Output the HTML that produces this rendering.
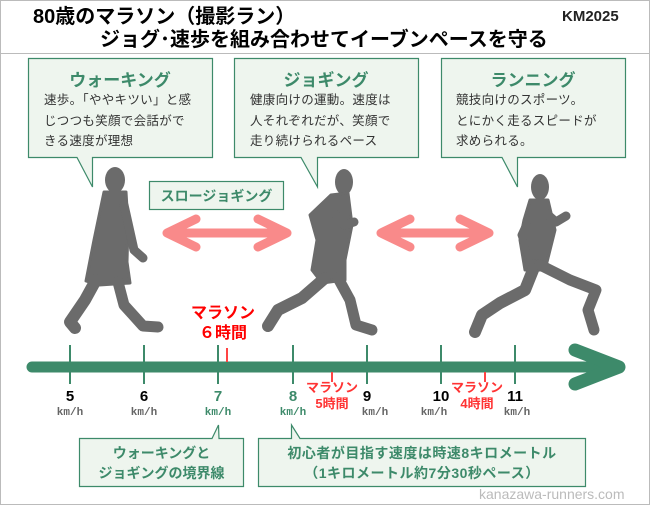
<!DOCTYPE html>
<html><head><meta charset="utf-8"><style>
body{margin:0;width:650px;height:505px;overflow:hidden;background:#fff;font-family:"Liberation Sans","Noto Sans CJK JP",sans-serif;}
.t{position:absolute;white-space:nowrap;}
</style></head><body>
<div style="position:absolute;left:0;top:0;width:648px;height:503px;border:1px solid #bbb;"></div>
<div style="position:absolute;left:1px;top:53px;width:648px;height:1px;background:#bbb;"></div>
<div class="t" style="left:33px;top:4px;font-size:20px;font-weight:bold;line-height:26px;">80歳のマラソン（撮影ラン）</div>
<div class="t" style="left:562px;top:8px;font-size:15px;font-weight:bold;line-height:18px;color:#222;">KM2025</div>
<div class="t" style="left:100px;top:27px;font-size:20px;font-weight:bold;line-height:26px;">ジョグ･速歩を組み合わせてイーブンペースを守る</div>

<svg width="650" height="505" style="position:absolute;left:0;top:0">
<g fill="#eef5ee" stroke="#3d8a6a" stroke-width="1.2">
<path d="M28.5 58.5H212.5V157.5H92.5V187L77 157.5H28.5Z"/>
<path d="M234.5 58.5H418.5V157.5H317.5V187L301 157.5H234.5Z"/>
<path d="M441.5 58.5H625.5V157.5H517.5V187L502 157.5H441.5Z"/>
<rect x="149.5" y="181.5" width="134" height="28"/>
<path d="M79.5 438.5H212V438.5L218.5 425L219 438.5H243.5V486.5H79.5Z"/>
<path d="M258.5 438.5H291.5V425L300 438.5H585.5V486.5H258.5Z"/>
</g>
<!-- pink arrows -->
<g stroke="#f98a8a" stroke-width="9" stroke-linecap="round" stroke-linejoin="round" fill="none">
<path d="M167 233H287M196 219L167 233L196 247M258 219L287 233L258 247"/>
<path d="M381 233H489M410 219L381 233L410 247M460 219L489 233L460 247"/>
</g>
<!-- silhouettes -->
<g fill="#6b6b6b" stroke="#6b6b6b" stroke-linecap="round" stroke-linejoin="round">
<ellipse cx="115" cy="180" rx="10" ry="13" stroke="none"/>
<path d="M104 192L126 192L128 225L127 262L130 283L99 285L86 281L94 240Z" stroke-width="3"/>
<path d="M124 205L134 250L143 258" stroke-width="9" fill="none"/>
<path d="M96 280L85 300L70 322L75 328" stroke-width="12" fill="none"/>
<path d="M118 282L124 305L143 326L158 327" stroke-width="11" fill="none"/>
<ellipse cx="344" cy="182" rx="9" ry="13" stroke="none"/>
<path d="M331 195L348 193L352 225L345 260L345 280L322 283L312 270L317 240L310 215Z" stroke-width="3"/>
<path d="M336 215L344 225L354 222" stroke-width="9" fill="none"/>
<path d="M325 278L302 298L278 310L268 326" stroke-width="12" fill="none"/>
<path d="M338 278L350 300L356 325L372 330" stroke-width="11" fill="none"/>
<ellipse cx="540" cy="187" rx="9" ry="13" stroke="none"/>
<path d="M530 200L548 200L555 230L545 270L525 270L520 240L524 220Z" stroke-width="3"/>
<path d="M548 215L556 222L566 216" stroke-width="9" fill="none"/>
<path d="M528 220L521 235L528 255" stroke-width="7" fill="none"/>
<path d="M535 265L525 290L500 303L482 315L475 332" stroke-width="12" fill="none"/>
<path d="M540 265L570 280L596 290L588 310L594 330" stroke-width="11" fill="none"/>
</g>
<!-- timeline -->
<g stroke="#3d8a6a" fill="none">
<line x1="32" y1="367" x2="618" y2="367" stroke-width="11" stroke-linecap="round"/>
<path d="M575 350L619 367L575 384" stroke-width="13" stroke-linecap="round" stroke-linejoin="round"/>
<g stroke-width="2"><line x1="70" y1="345" x2="70" y2="384"/><line x1="144" y1="345" x2="144" y2="384"/><line x1="218" y1="345" x2="218" y2="384"/><line x1="293" y1="345" x2="293" y2="384"/><line x1="367" y1="345" x2="367" y2="384"/><line x1="441" y1="345" x2="441" y2="384"/><line x1="515" y1="345" x2="515" y2="384"/></g>
</g>
<g stroke="#f44" stroke-width="2"><line x1="227" y1="348" x2="227" y2="362"/><line x1="332" y1="372" x2="332" y2="382"/><line x1="485" y1="372" x2="485" y2="382"/></g>
</svg>

<div class="t" style="left:28px;top:66px;width:184px;text-align:center;font-size:17px;font-weight:bold;color:#3d8a6a;">ウォーキング</div>
<div class="t" style="left:44px;top:90px;font-size:12.5px;line-height:20.5px;color:#333;letter-spacing:0.3px;">速歩。「ややキツい」と感<br>じつつも笑顔で会話がで<br>きる速度が理想</div>
<div class="t" style="left:234px;top:66px;width:184px;text-align:center;font-size:17px;font-weight:bold;color:#3d8a6a;">ジョギング</div>
<div class="t" style="left:250px;top:90px;font-size:12.5px;line-height:20.5px;color:#333;letter-spacing:0.3px;">健康向けの運動。速度は<br>人それぞれだが、笑顔で<br>走り続けられるペース</div>
<div class="t" style="left:441px;top:66px;width:184px;text-align:center;font-size:17px;font-weight:bold;color:#3d8a6a;">ランニング</div>
<div class="t" style="left:456px;top:90px;font-size:12.5px;line-height:20.5px;color:#333;letter-spacing:0.3px;">競技向けのスポーツ。<br>とにかく走るスピードが<br>求められる。</div>
<div class="t" style="left:149px;top:186px;width:135px;text-align:center;font-size:14px;font-weight:bold;color:#3d8a6a;">スロージョギング</div>

<div class="t" style="left:183px;top:304px;width:80px;text-align:center;font-size:16px;font-weight:bold;color:#f00;line-height:20px;">マラソン<br>６時間</div>
<div class="t" style="left:297px;top:380px;width:70px;text-align:center;font-size:13px;font-weight:bold;color:#f33;line-height:16px;">マラソン<br>5時間</div>
<div class="t" style="left:442px;top:380px;width:70px;text-align:center;font-size:13px;font-weight:bold;color:#f33;line-height:16px;">マラソン<br>4時間</div>

<div style="position:absolute;top:388px;left:0;font-size:15px;font-weight:bold;">
<span class="t" style="left:60px;width:20px;text-align:center;">5</span>
<span class="t" style="left:134px;width:20px;text-align:center;">6</span>
<span class="t" style="left:208px;width:20px;text-align:center;color:#3d8a6a;">7</span>
<span class="t" style="left:283px;width:20px;text-align:center;color:#3d8a6a;">8</span>
<span class="t" style="left:357px;width:20px;text-align:center;">9</span>
<span class="t" style="left:426px;width:30px;text-align:center;">10</span>
<span class="t" style="left:500px;width:30px;text-align:center;">11</span>
</div>
<div style="position:absolute;top:407px;left:0;font-size:11px;font-family:'Liberation Mono',monospace;font-weight:bold;color:#666;">
<span class="t" style="left:50px;width:40px;text-align:center;">km/h</span>
<span class="t" style="left:124px;width:40px;text-align:center;">km/h</span>
<span class="t" style="left:198px;width:40px;text-align:center;color:#3d8a6a;">km/h</span>
<span class="t" style="left:273px;width:40px;text-align:center;color:#3d8a6a;">km/h</span>
<span class="t" style="left:355px;width:40px;text-align:center;">km/h</span>
<span class="t" style="left:414px;width:40px;text-align:center;">km/h</span>
<span class="t" style="left:497px;width:40px;text-align:center;">km/h</span>
</div>

<div class="t" style="left:79px;top:443px;width:165px;text-align:center;font-size:14px;font-weight:bold;color:#3d8a6a;line-height:20px;">ウォーキングと<br>ジョギングの境界線</div>
<div class="t" style="left:258px;top:443px;width:328px;text-align:center;font-size:14px;font-weight:bold;color:#3d8a6a;line-height:20px;letter-spacing:0.5px;">初心者が目指す速度は時速8キロメートル<br>（1キロメートル約7分30秒ペース）</div>
<div class="t" style="left:479px;top:486px;font-size:14px;color:#bbb;line-height:16px;">kanazawa-runners.com</div>
</body></html>
